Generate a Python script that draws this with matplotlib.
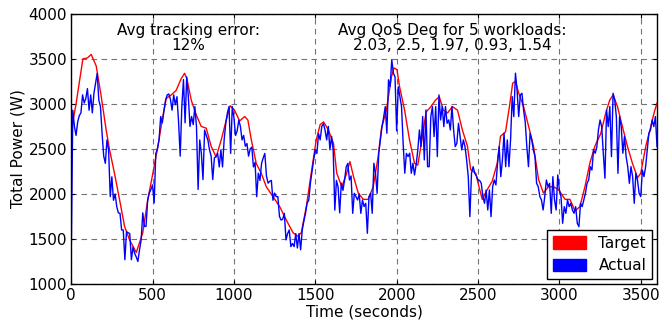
import matplotlib

matplotlib.use("Agg")
import matplotlib.pyplot as plt
import numpy as np
from matplotlib.patches import Patch

# target power curve, read at its corner points (seconds, watts)
target_t = [0, 30, 72, 100, 123, 135, 154, 184, 215, 236, 266, 297, 328, 359, 400,
            440, 471, 502, 533, 563, 584, 615, 645, 676, 697, 711, 738, 768, 799, 830,
            860, 891, 922, 953, 977, 1004, 1035, 1066, 1086, 1107, 1137, 1168, 1199,
            1240, 1281, 1322, 1363, 1393, 1414, 1445, 1475, 1506, 1530, 1551, 1581,
            1612, 1632, 1663, 1693, 1713, 1734, 1764, 1795, 1825, 1856, 1886, 1907,
            1937, 1968, 1984, 2002, 2018, 2049, 2079, 2110, 2130, 2161, 2181, 2211,
            2238, 2262, 2287, 2313, 2343, 2374, 2404, 2435, 2455, 2486, 2506, 2526,
            2557, 2587, 2618, 2638, 2669, 2693, 2713, 2730, 2750, 2780, 2811, 2841,
            2872, 2902, 2933, 2963, 2994, 3035, 3065, 3096, 3126, 3157, 3187, 3218,
            3254, 3285, 3309, 3330, 3357, 3387, 3418, 3449, 3480, 3500, 3531, 3562,
            3582, 3600]
target_w = [2700, 3000, 3500, 3510, 3550, 3500, 3420, 3090, 2710, 2490, 2230, 1940, 1640,
            1490, 1350, 1570, 1940, 2230, 2530, 2860, 3060, 3100, 3150, 3280, 3340,
            3280, 3040, 2880, 2750, 2730, 2530, 2410, 2600, 2820, 2980, 2930, 2810,
            2860, 2820, 2600, 2340, 2230, 2080, 1970, 1860, 1710, 1570, 1530, 1570,
            1860, 2230, 2600, 2770, 2800, 2710, 2560, 2230, 2080, 2230, 2360, 2200,
            2010, 1940, 1940, 2080, 2410, 2730, 2930, 3300, 3400, 3380, 3190, 2930,
            2600, 2340, 2320, 2670, 2910, 2970, 3040, 3080, 2930, 2900, 2970, 2930,
            2710, 2530, 2270, 2230, 2080, 1940, 2050, 2140, 2340, 2640, 2690, 2970,
            3230, 3250, 3120, 2970, 2750, 2530, 2160, 2010, 2080, 2080, 2050, 1940,
            1940, 1810, 1860, 2080, 2340, 2530, 2670, 2900, 3040, 3100, 2970, 2750,
            2530, 2340, 2180, 2230, 2530, 2750, 2900, 3010]

# measured power, one reading every 10 s
actual_w = [
    1280, 2930, 2750, 2650, 2800, 2870, 2900, 3100, 3010, 3060,
    3170, 2930, 3100, 2900, 3120, 3230, 3340, 3040, 2970, 2670,
    2420, 2340, 2600, 2490, 1970, 2190, 1930, 2000, 1860, 1790,
    1785, 1600, 1600, 1270, 1580, 1570, 1560, 1270, 1410, 1340,
    1300, 1250, 1380, 1490, 1790, 1640, 1640, 1930, 2010, 2050,
    2100, 1900, 2450, 2500, 2600, 2860, 2790, 2920, 3040, 3100,
    3110, 3050, 2930, 3100, 2990, 3080, 2800, 2420, 2970, 3270,
    2790, 3300, 3080, 2750, 2860, 2770, 2970, 2750, 2050, 2600,
    2450, 2160, 2710, 2650, 2600, 2490, 2420, 2160, 2400, 2415,
    2450, 2300, 2490, 2300, 2600, 2785, 2900, 2970, 2450, 2970,
    2850, 2650, 2700, 2820, 2750, 2600, 2650, 2530, 2560, 2420,
    2500, 2520, 2300, 2350, 1970, 2230, 2150, 2340, 2400, 2450,
    2200, 2120, 2140, 2150, 1930, 2010, 1970, 1970, 1750, 1710,
    1720, 1785, 1490, 1560, 1600, 1415, 1450, 1415, 1560, 1400,
    1560, 1380, 1600, 1700, 1785, 1900, 1930, 2120, 2250, 2380,
    2490, 2450, 2670, 2600, 2750, 2780, 2710, 2600, 2750, 2490,
    2640, 2490, 1820, 2150, 2080, 1790, 2120, 2040, 2155, 2300,
    2340, 2155, 2200, 1785, 2007, 1970, 1933, 2000, 1785, 1933,
    1860, 1896, 1563, 1970, 2007, 1785, 2341, 2229, 2007, 2452,
    2600, 2748, 2850, 2970, 2674, 3267, 3192, 3489, 3341, 3300,
    2700, 3190, 3080, 2970, 2560, 2230, 2450, 2415, 2452, 2230,
    2341, 2211, 2330, 2489, 2711, 2526, 2860, 2378, 2933, 2303,
    2303, 2859, 2970, 2637, 2970, 2415, 3100, 2822, 2970, 2748,
    2970, 2785, 2822, 2711, 2970, 2711, 2526, 2563, 2785, 2637,
    2489, 2600, 2526, 2378, 2192, 1748, 2229, 2303, 2229, 2200,
    2155, 2150, 2118, 1970, 1896, 2044, 1822, 2044, 1748, 2081,
    2155, 2100, 2340, 2526, 2192, 2378, 2674, 2303, 2600, 2303,
    2600, 3081, 2859, 3341, 3155, 2859, 3100, 3118, 2930, 2800,
    2526, 2303, 2674, 2600, 2489, 2415, 2118, 2081, 1970, 1933,
    1822, 1970, 2155, 2081, 2118, 1785, 2192, 1933, 1822, 2211,
    2044, 1970, 1674, 1859, 1785, 1933, 1859, 1896, 1822, 1785,
    1859, 1674, 1637, 1896, 1859, 1933, 2007, 2118, 2155, 2303,
    2266, 2489, 2452, 2520, 2711, 2822, 2748, 2450, 2174, 2933,
    2748, 2970, 2415, 3118, 3044, 2859, 2229, 2859, 2748, 2452,
    2637, 2415, 2303, 2118, 2303, 2192, 1896, 2229, 2155, 2007,
    1970, 2266, 2192, 2303, 2489, 2674, 2711, 2822, 2748, 2859,
    2526,
]
actual_t = np.arange(len(actual_w)) * 10

plt.rcParams["font.family"] = "DejaVu Sans"
plt.rcParams["font.size"] = 11

fig, ax = plt.subplots(figsize=(6.59, 3.22), dpi=100)
fig.subplots_adjust(left=0.108, right=0.997, top=0.957, bottom=0.118)

ax.plot(target_t, target_w, color="#ff0000", lw=1.0)
ax.plot(actual_t, actual_w, color="#0000ff", lw=1.0)

ax.set_xlim(0, 3600)
ax.set_ylim(1000, 4000)
ax.set_xticks(range(0, 3501, 500))
ax.set_yticks(range(1000, 4001, 500))
ax.tick_params(direction="in", top=True, right=True, length=3, labelsize=11, pad=3)
ax.grid(True, color="0.45", linestyle=(0, (5, 4)), lw=0.8)
ax.set_axisbelow(True)
for spine in ax.spines.values():
    spine.set_linewidth(1.0)

ax.set_xlabel("Time (seconds)", fontsize=11, labelpad=1)
ax.set_ylabel("Total Power (W)", fontsize=11, labelpad=2)

ax.text(720, 3900, "Avg tracking error:\n12%", ha="center", va="top",
        fontsize=11, linespacing=1.0)
ax.text(2340, 3900, "Avg QoS Deg for 5 workloads:\n2.03, 2.5, 1.97, 0.93, 1.54",
        ha="center", va="top", fontsize=11, linespacing=1.0)

handles = [Patch(facecolor="#ff0000", edgecolor="#ff0000", label="Target"),
           Patch(facecolor="#0000ff", edgecolor="#0000ff", label="Actual")]
leg = ax.legend(handles=handles, loc="lower right", fontsize=11, fancybox=False,
                framealpha=1, edgecolor="black", borderaxespad=0.3,
                handlelength=2.2, handleheight=0.9)
leg.get_frame().set_linewidth(1.0)

fig.savefig("out.png", dpi=100)
